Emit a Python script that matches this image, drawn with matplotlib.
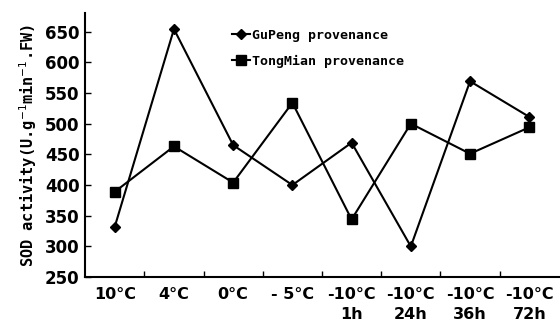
import matplotlib
matplotlib.use("Agg")
import matplotlib.pyplot as plt

categories = ["10°C", "4°C", "0°C", "- 5°C", "-10°C\n1h", "-10°C\n24h", "-10°C\n36h", "-10°C\n72h"]
gupeng = [332, 654, 465, 400, 469, 300, 569, 511]
tongmian = [389, 463, 404, 534, 344, 500, 451, 494]
yticks = [250, 300, 350, 400, 450, 500, 550, 600, 650]

fig = plt.figure(figsize=(5.6, 3.28), dpi=100)
ax = fig.add_axes([0.152, 0.155, 0.846, 0.805])
x = list(range(len(categories)))
ax.plot(x, gupeng, color="black", lw=1.5, marker="D", ms=5.5,
        label="GuPeng provenance")
ax.plot(x, tongmian, color="black", lw=1.5, marker="s", ms=7,
        label="TongMian provenance")

ax.set_xlim(-0.5, 7.5)
ax.set_ylim(250, 680)
ax.set_yticks(yticks)
ax.set_yticklabels([str(v) for v in yticks], fontsize=12, fontweight="bold")
ax.set_xticks(x)
ax.set_xticklabels(categories, fontsize=11.5, fontweight="bold", linespacing=1.45)
ax.tick_params(axis="x", length=0, pad=7)
ax.set_xticks([i + 0.5 for i in range(7)], minor=True)
ax.tick_params(axis="x", which="minor", direction="in", length=4, width=1)
ax.tick_params(axis="y", direction="in", length=4, width=1, pad=4)
for s in ["top", "right"]:
    ax.spines[s].set_visible(False)
for s in ["left", "bottom"]:
    ax.spines[s].set_linewidth(1.5)

ax.set_ylabel("SOD activity(U.g$^{-1}$min$^{-1}$.FW)", fontsize=11,
              fontweight="bold", family="DejaVu Sans Mono", labelpad=4)
ax.legend(loc="upper left", bbox_to_anchor=(0.285, 0.985), frameon=False,
          prop={"family": "DejaVu Sans Mono", "weight": "bold", "size": 9.5},
          handlelength=1.4, handletextpad=0.1, labelspacing=0.95)

fig.savefig("out.png", dpi=100)
